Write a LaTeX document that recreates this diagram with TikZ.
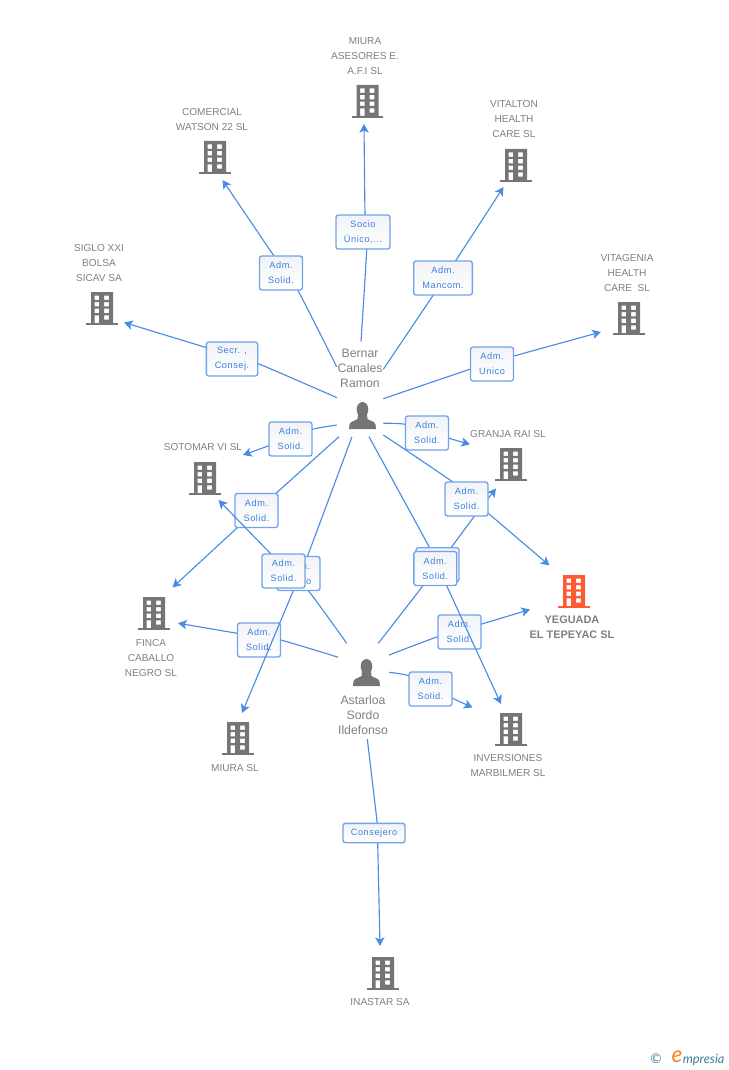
\documentclass[tikz,border=0pt]{standalone}
\usepackage{fontspec}
\setmainfont{Liberation Sans}
\newfontfamily\boxfont[LetterSpace=6]{Liberation Sans}
\newfontfamily\logofont{Lato}
\newfontfamily\symfont{DejaVu Sans}
\usetikzlibrary{arrows.meta,calc}
\definecolor{lk}{HTML}{4A8BE6}
\definecolor{bd}{HTML}{6FA3EA}
\definecolor{bt}{HTML}{3C7FDC}
\definecolor{gr}{HTML}{757575}
\definecolor{tg}{HTML}{808080}
\definecolor{orng}{HTML}{FF5B33}
\definecolor{F2}{HTML}{F1F3F7}
\definecolor{logob}{HTML}{3F7F99}
\definecolor{logoo}{HTML}{F58220}
\pgfdeclarelayer{lo}\pgfdeclarelayer{under}\pgfdeclarelayer{top}
\pgfsetlayers{lo,under,main,top}
\tikzset{
  tag/.style={draw=bd,line width=1pt,rounded corners=1.8pt,top color=F2,bottom color=white,
    minimum width=32.2pt,minimum height=25.5pt,inner sep=0pt,align=center,text=bt,
    font=\boxfont\fontsize{6.9}{11.25}\selectfont},
  nametext/.style={align=center,text=tg,font=\fontsize{7.55}{11.25}\selectfont},
  pers/.style={align=center,text=tg,font=\fontsize{9.2}{11.25}\selectfont},
  lkline/.style={draw=lk,line width=.85pt},
  lkarrow/.style={lkline,-{Stealth[length=6.5pt,width=7pt,inset=1.6pt]}},
}
% building: name, x centre, y top, colour
\newcommand\bldg[4]{%
  \node[minimum width=23pt,minimum height=25pt,inner sep=0pt] (#1) at (#2,#3+17) {};
  \begin{scope}[shift={(#2,#3)}]
    \fill[#4,even odd rule] (-11,0) rectangle (11,31)
      (-7.5,3.5) rectangle (-3,7.8) (2.2,3.5) rectangle (6.8,7.8)
      (-7.5,10) rectangle (-3,14.3) (2.2,10) rectangle (6.8,14.3)
      (-7.5,16.7) rectangle (-3,21) (2.2,16.7) rectangle (6.8,21)
      (-7.5,23.3) rectangle (-3,31) (2.2,23.3) rectangle (6.8,27.7);
    \fill[#4] (-15.8,30.7) rectangle (15.8,33.2);
  \end{scope}}
% person: name, x centre, y top
\newcommand\persona[3]{%
  \node[minimum width=20pt,minimum height=20pt,inner sep=0pt] (#1) at (#2,#3+13.5) {};
  \begin{scope}[shift={(#2,#3)}]
    \fill[gr] (0,7.5) ellipse [x radius=5.8,y radius=7.5];
    \fill[gr] (-13.5,27) -- (-13,22.5) .. controls (-12.5,19.5) and (-8,19) .. (-5,17) -- (-4.5,12)
      -- (4.5,12) -- (5,17) .. controls (8,19) and (12.5,19.5) .. (13,22.5) -- (13.5,27) -- cycle;
  \end{scope}}
% connector n: start, edge of its tag on either side, end
\newcommand\lnk[1]{%
  \draw[lkarrow] plot[smooth,tension=.3] coordinates {(s#1) (a#1) (b#1) (e#1)};}
\newcommand\lnkpts[5]{%
  \coordinate (s#1) at #2; \coordinate (a#1) at #3; \coordinate (b#1) at #4; \coordinate (e#1) at #5;}
\begin{document}
\begin{tikzpicture}[x=.75pt,y=-.75pt]
\useasboundingbox (0,0) rectangle (728,1070);
% buildings
\bldg{bMiuraA}{367.5}{85}{gr}
\bldg{bWatson}{215}{141}{gr}
\bldg{bVitalton}{516}{149}{gr}
\bldg{bSiglo}{102}{292}{gr}
\bldg{bVitagenia}{629}{302}{gr}
\bldg{bGranja}{511}{448}{gr}
\bldg{bSotomar}{205}{462}{gr}
\bldg{bYeguada}{574}{575}{orng}
\bldg{bFinca}{154}{597}{gr}
\bldg{bMiura}{238}{722}{gr}
\bldg{bInver}{511}{713}{gr}
\bldg{bInastar}{383}{957}{gr}
\persona{pB}{362.5}{402}
\persona{pA}{366.5}{659}
% names
\node[nametext] (tMiuraA) at (365,56) {MIURA\\ASESORES E.\\A.F.I SL};
\node[nametext] (tWatson) at (212,119.5) {COMERCIAL\\WATSON 22 SL};
\node[nametext] (tVitalton) at (514,119) {VITALTON\\HEALTH\\CARE SL};
\node[nametext] (tSiglo) at (99,263) {SIGLO XXI\\BOLSA\\SICAV SA};
\node[nametext] (tVitagenia) at (627,273) {VITAGENIA\\HEALTH\\CARE\ \ SL};
\node[nametext] (tGranja) at (508,434) {GRANJA RAI SL};
\node[nametext] (tSotomar) at (203,447) {SOTOMAR VI SL};
\node[nametext,font=\bfseries\fontsize{8.2}{11.25}\selectfont] (tYeguada) at (572,627.5) {YEGUADA\\EL TEPEYAC SL};
\node[nametext] (tFinca) at (151,658) {FINCA\\CABALLO\\NEGRO SL};
\node[nametext] (tMiura) at (235,768) {MIURA SL};
\node[nametext] (tInver) at (508,765.5) {INVERSIONES\\MARBILMER SL};
\node[nametext] (tInastar) at (380,1002) {INASTAR SA};
\node[pers] (tB) at (360,368) {Bernar\\Canales\\Ramon};
\node[pers] (tA) at (363,715) {Astarloa\\Sordo\\Ildefonso};
% connector points
\lnkpts{1}{(337,397.7)}{(257.3,363.3)}{(206.7,347.7)}{(124,322.5)}
\lnkpts{2}{(336.7,366.7)}{(297.7,290)}{(273.3,255)}{(222.5,180)}
\lnkpts{3}{(361,341.7)}{(366.7,249.3)}{(365,215)}{(364,124)}
\lnkpts{4}{(383.3,369.3)}{(433.3,295)}{(455.7,260.7)}{(503.5,187)}
\lnkpts{5}{(383.3,398.7)}{(470.7,369)}{(514,356)}{(601,332)}
\lnkpts{6}{(383.3,423.3)}{(405,424.3)}{(449,438.3)}{(470,444.3)}
\lnkpts{7}{(383.3,435)}{(452.3,481.7)}{(488.3,513.3)}{(549.5,565.5)}
\lnkpts{8}{(369,436.7)}{(431.7,551.7)}{(446.7,585.7)}{(501,704)}
\lnkpts{9}{(352,436.7)}{(307.3,556.7)}{(293.3,590.7)}{(242,713)}
\lnkpts{10}{(336.7,425)}{(312.7,429.3)}{(269,445.7)}{(243,455)}
\lnkpts{11}{(339,436.7)}{(276,493.3)}{(237.3,527.7)}{(172.5,587.5)}
\lnkpts{12}{(346.7,643.3)}{(308.3,590.7)}{(271,554)}{(218.5,500)}
\lnkpts{13}{(338.3,657.3)}{(280.7,640)}{(237.3,633.3)}{(178,623.2)}
\lnkpts{15}{(378.3,643.3)}{(422.7,586)}{(474,516.7)}{(496,488.5)}
\lnkpts{16}{(389,655)}{(437.7,636.7)}{(481.7,624)}{(530,609.5)}
\lnkpts{17}{(389,672.3)}{(409.3,676)}{(452.7,698.3)}{(472.5,707.5)}
\lnkpts{18}{(367.3,739)}{(377.3,824)}{(377.7,843.3)}{(380,946)}
% tags that connectors run over
\begin{pgfonlayer}{under}
\node[tag] (l11) at (256.5,510.5) {Adm.\\Solid.};
\node[tag] (l13) at (259,640) {Adm.\\Solid.};
\node[tag] (l16) at (459.5,632) {Adm.\\Solid.};
\end{pgfonlayer}
% tags on top
\begin{pgfonlayer}{top}
\node[tag,minimum width=38.5pt] (l1) at (232,359) {Secr. ,\\Consej.};
\node[tag] (l2) at (281,273) {Adm.\\Solid.};
\node[tag,minimum width=40.5pt] (l3) at (363,232) {Socio\\Único,...};
\node[tag,minimum width=44pt] (l4) at (443,278) {Adm.\\Mancom.};
\node[tag] (l5) at (492,364) {Adm.\\Unico};
\node[tag] (l6) at (427,433) {Adm.\\Solid.};
\node[tag] (l7) at (466.5,499) {Adm.\\Solid.};
\node[tag] (l10) at (290.5,439) {Adm.\\Solid.};
\node[tag] (l9) at (298.5,573.5) {Adm.\\Unico};
\node[tag] (l12) at (283.5,571) {Adm.\\Solid.};
\node[tag] (l8) at (437.5,564.7) {Adm.\\Solid.};
\node[tag] (l15) at (435.3,568.5) {Adm.\\Solid.};
\node[tag] (l17) at (430.5,689) {Adm.\\Solid.};
\node[tag,minimum width=46.5pt,minimum height=14.5pt] (l18) at (374,833) {Consejero};
\end{pgfonlayer}
% connectors
\begin{pgfonlayer}{lo}
\lnk{11}
\lnk{13}
\lnk{16}
\end{pgfonlayer}
\lnk{1}
\lnk{2}
\lnk{3}
\lnk{4}
\lnk{5}
\lnk{6}
\lnk{7}
\lnk{8}
\lnk{9}
\lnk{10}
\lnk{12}
\lnk{15}
\lnk{17}
\lnk{18}
% logo
\node[inner sep=0pt,text=logob,font=\symfont\fontsize{10}{10}\selectfont] (cLogo) at (656,1058.5) {©};
\node[inner sep=0pt,text=logoo,font=\logofont\itshape\fontsize{17}{17}\selectfont] (eLogo) at (677,1056.5) {e};
\node[inner sep=0pt,anchor=west,text=logob,font=\logofont\itshape\fontsize{9.6}{9.6}\selectfont] (mLogo) at (682.5,1059.5) {mpresia};
\end{tikzpicture}
\end{document}
